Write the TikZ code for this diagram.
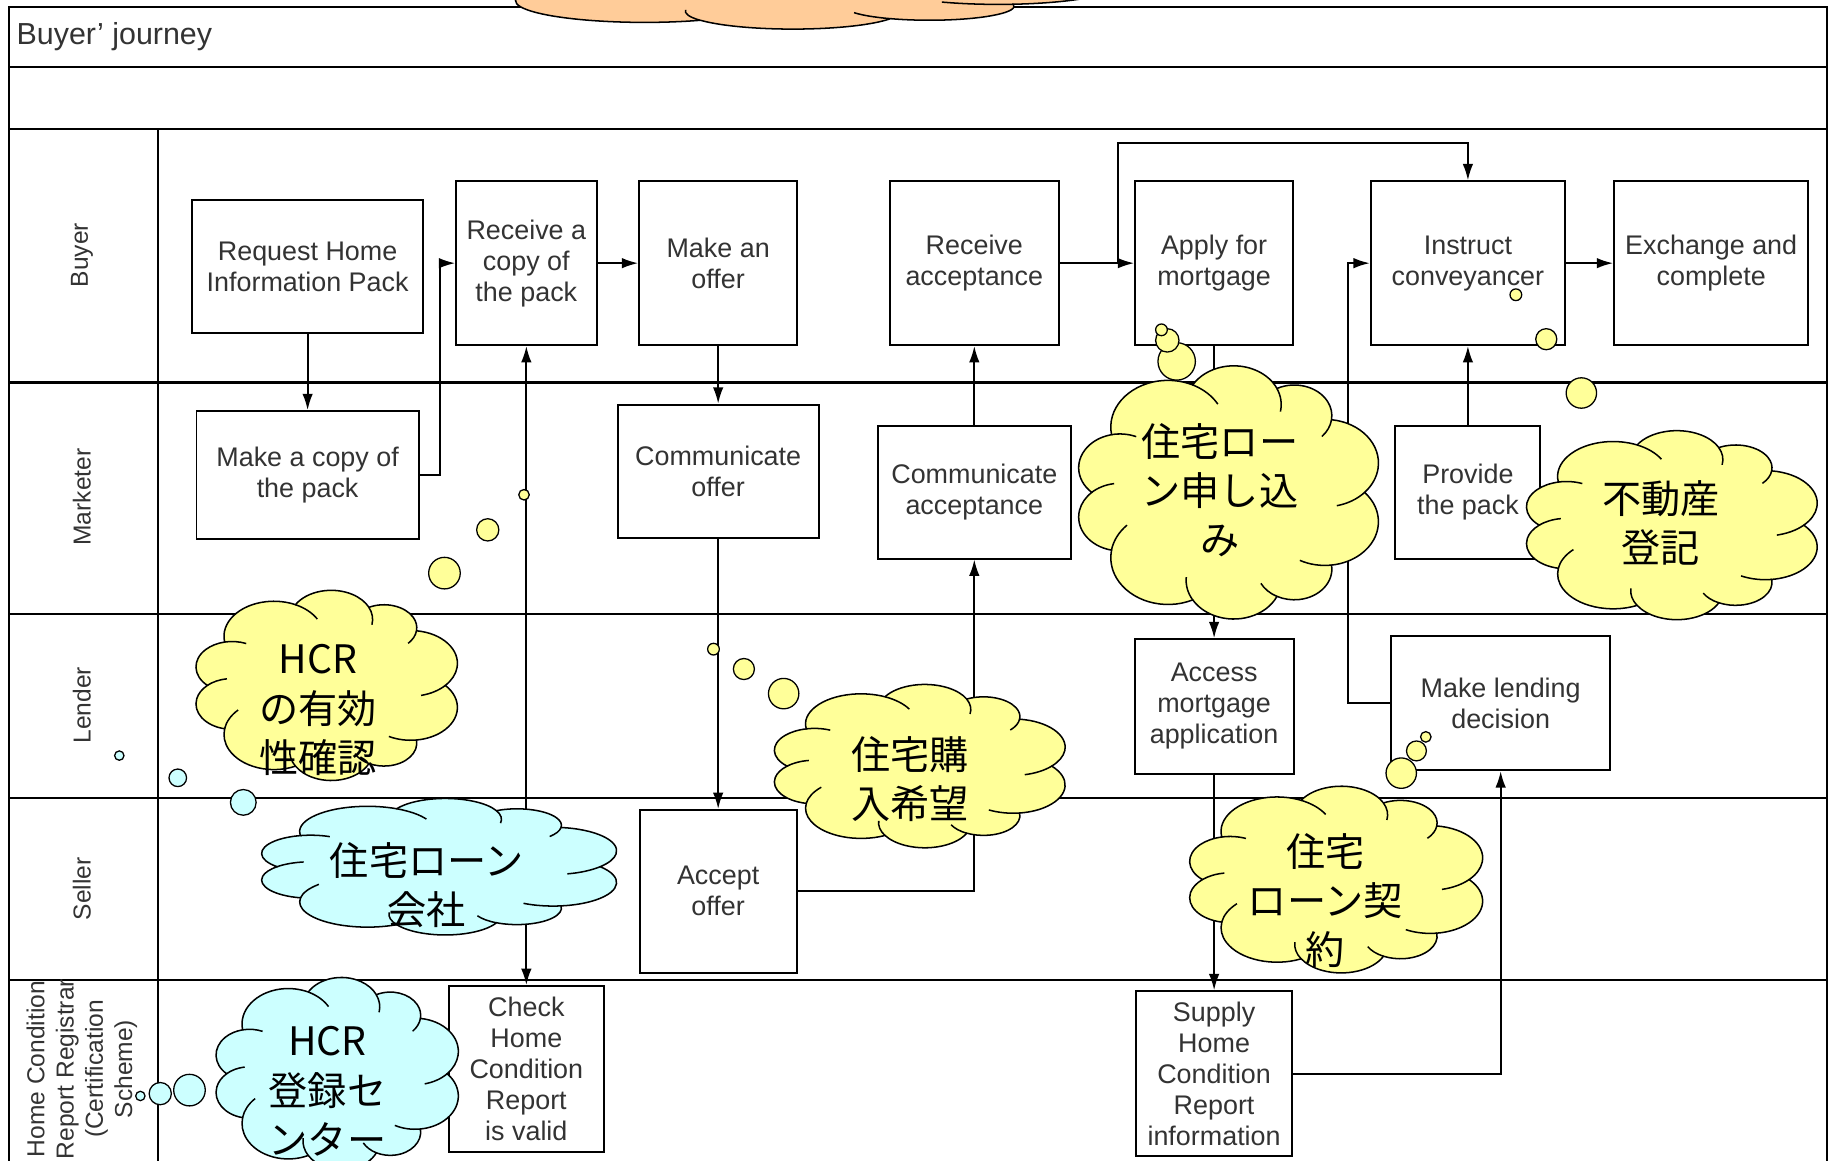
\documentclass[tikz,border=0pt]{standalone}
\usepackage{fontspec}
\setmainfont{Liberation Sans}
\newfontfamily\jp{Noto Sans CJK JP}
\usetikzlibrary{arrows.meta}
\definecolor{cyellow}{HTML}{FFFF99}
\definecolor{ccyan}{HTML}{CCFFFF}
\definecolor{corange}{HTML}{FFCC99}
\definecolor{txt}{HTML}{333333}
% ---- base cloud outline (junctions on a circle of radius 100) ----
\def\cwPhi{125}
\def\cwBase{}
\def\cwCrease{}
\foreach \k in {0,...,9}{%
  \pgfmathsetmacro\cwTa{36*\k+5*sin(\k*108)}%
  \pgfmathsetmacro\cwTb{36*(\k+1)+5*sin((\k+1)*108)}%
  \pgfmathsetmacro\cwXa{100*cos(\cwTa)}%
  \pgfmathsetmacro\cwYa{100*sin(\cwTa)}%
  \pgfmathsetmacro\cwXb{100*cos(\cwTb)}%
  \pgfmathsetmacro\cwYb{100*sin(\cwTb)}%
  \pgfmathsetmacro\cwDx{\cwXb-\cwXa}%
  \pgfmathsetmacro\cwDy{\cwYb-\cwYa}%
  \pgfmathsetmacro\cwLen{veclen(\cwDx,\cwDy)}%
  \pgfmathsetmacro\cwAl{atan2(\cwDy,\cwDx)}%
  \pgfmathsetmacro\cwR{\cwLen/(2*sin(\cwPhi/2))}%
  \pgfmathsetmacro\cwH{\cwR*cos(\cwPhi/2)}%
  \pgfmathsetmacro\cwCx{(\cwXa+\cwXb)/2-sin(\cwAl)*\cwH}%
  \pgfmathsetmacro\cwCy{(\cwYa+\cwYb)/2+cos(\cwAl)*\cwH}%
  \pgfmathsetmacro\cwS{atan2(\cwYa-\cwCy,\cwXa-\cwCx)}%
  \pgfmathsetmacro\cwE{\cwS+\cwPhi}%
  \pgfmathsetmacro\cwF{\cwE+35}%
  \xdef\cwBase{\cwBase arc[start angle=\cwS, end angle=\cwE, radius=\cwR]}%
  \xdef\cwCrease{\cwCrease (\cwXb,\cwYb) arc[start angle=\cwE, end angle=\cwF, radius=\cwR]}%
}
% #1 cx, #2 cy, #3 width, #4 height, #5 fill
\newcommand\drawcloud[5]{%
  \begin{scope}[shift={(#1,#2)}, xscale=#3/228, yscale=#4/228]
    \draw[line width=1.3pt, fill=#5] (100,0) \cwBase -- cycle;
    \draw[line width=1.3pt] \cwCrease;
  \end{scope}}
\begin{document}
\begin{tikzpicture}[x=1pt,y=-1pt,
  lane/.style={line width=1.8pt},
  box/.style={draw, line width=1.7pt, fill=white, align=center, font=\fontsize{23}{26.5}\selectfont, text=txt, inner sep=0pt},
  lanelabel/.style={rotate=90, align=center, font=\fontsize{21}{25}\selectfont, text=txt, inner sep=0pt},
  conn/.style={line width=1.6pt, -{Latex[length=14pt,width=9pt]}},
  bubble/.style={circle, draw, line width=1.1pt, inner sep=0pt},
  cloudtext/.style={font=\jp\fontsize{33.5}{42}\selectfont, align=center, inner sep=0pt}
]
\useasboundingbox (0,0) rectangle (1568,992);
\clip (0,0) rectangle (1568,992);
\fill[white] (0,0) rectangle (1568,992);

% frame and lanes
\draw[lane] (8,6) rectangle (1562,1010);
\draw[lane] (8,57) -- (1562,57);
\draw[lane] (8,110) -- (1562,110);
\draw[lane] (8,327) -- (1562,327);
\draw[lane] (8,525) -- (1562,525);
\draw[lane] (8,682) -- (1562,682);
\draw[lane] (8,838) -- (1562,838);
\draw[lane] (135,110) -- (135,1010);

\node[anchor=west, font=\fontsize{26}{28}\selectfont, text=txt, inner sep=0pt] (title) at (14,31) {Buyer' journey};
\node[lanelabel] (lbuyer) at (70,218) {Buyer};
\node[lanelabel] (lmarket) at (70,425) {Marketer};
\node[lanelabel] (llender) at (70,603) {Lender};
\node[lanelabel] (lseller) at (70,760) {Seller};
\node[lanelabel] (lhcr) at (70,914) {Home Condition\\Report Registrar\\(Certification\\Scheme)};

% boxes
\node[box, minimum width=198, minimum height=114] (req) at (263,228) {Request Home\\Information Pack};
\node[box, minimum width=120, minimum height=140] (recv) at (450,225) {Receive a\\copy of\\the pack};
\node[box, minimum width=135, minimum height=140] (offer) at (614,225) {Make an\\offer};
\node[box, minimum width=144, minimum height=140] (recvacc) at (833,225) {Receive\\acceptance};
\node[box, minimum width=135, minimum height=140] (apply) at (1038,225) {Apply for\\mortgage};
\node[box, minimum width=166, minimum height=140] (instr) at (1255,225) {Instruct\\conveyancer};
\node[box, minimum width=166, minimum height=140] (exch) at (1463,225) {Exchange and\\complete};
\node[box, minimum width=190, minimum height=109] (copy) at (263,406) {Make a copy of\\the pack};
\node[box, minimum width=172, minimum height=114] (commoffer) at (614,403) {Communicate\\offer};
\node[box, minimum width=165, minimum height=113] (commacc) at (833,421) {Communicate\\acceptance};
\node[box, minimum width=124, minimum height=113] (provide) at (1255,421) {Provide\\the pack};
\node[box, minimum width=136, minimum height=115] (access) at (1038,604) {Access\\mortgage\\application};
\node[box, minimum width=187, minimum height=115] (lend) at (1283,601) {Make lending\\decision};
\node[box, minimum width=134, minimum height=139] (accept) at (614,762) {Accept\\offer};
\node[box, minimum width=133, minimum height=142] (check) at (450,914) {Check\\Home\\Condition\\Report\\is valid};
\node[box, minimum width=134, minimum height=141] (supply) at (1038,918) {Supply\\Home\\Condition\\Report\\information};

% connectors
\draw[conn] (req) -- (copy);
\draw[conn] (copy.east) -- ++(17,0) |- (recv.west);
\draw[conn] (recv) -- (offer);
\draw[conn] (offer) -- (commoffer);
\draw[conn] (commoffer) -- (accept);
\draw[conn] (accept.east) -| (commacc.south);
\draw[conn] (commacc) -- (recvacc);
\draw[conn] (recvacc) -- (apply);
\coordinate (br) at (956,225);
\coordinate (brtop) at (956,122);
\draw[conn] (br) -- (brtop) -| (instr.north);
\draw[conn] (apply) -- (access);
\draw[conn] (access) -- (supply);
\draw[conn] (supply.east) -| (lend.south);
\draw[conn] (lend.west) -- ++(-36,0) |- (instr.west);
\draw[conn] (provide) -- (instr);
\draw[conn] (instr) -- (exch);
\draw[line width=1.6pt, {Latex[length=14pt,width=9pt]}-{Latex[length=14pt,width=9pt]}] (recv.south) -- (check.north);

% clouds
\drawcloud{667}{-25}{600}{100}{corange}
\drawcloud{279}{586}{232}{163}{cyellow}
\drawcloud{375}{741}{315}{117}{ccyan}
\drawcloud{288}{918}{215}{165}{ccyan}
\drawcloud{786}{655}{258}{140}{cyellow}
\drawcloud{1050}{421}{266}{217}{cyellow}
\drawcloud{1429}{449}{258}{162}{cyellow}
\drawcloud{1142}{752}{260}{160}{cyellow}

% bubbles
\node[bubble, fill=cyellow, minimum size=9] (b1) at (448,423) {};
\node[bubble, fill=cyellow, minimum size=19] (b2) at (417,453) {};
\node[bubble, fill=cyellow, minimum size=27] (b3) at (380,490) {};
\node[bubble, fill=ccyan, minimum size=8] (b4) at (102,646) {};
\node[bubble, fill=ccyan, minimum size=15] (b5) at (152,665) {};
\node[bubble, fill=ccyan, minimum size=22] (b6) at (208,686) {};
\node[bubble, fill=ccyan, minimum size=8] (b7) at (120,937) {};
\node[bubble, fill=ccyan, minimum size=19] (b8) at (137,935) {};
\node[bubble, fill=ccyan, minimum size=27] (b9) at (162,932) {};
\node[bubble, fill=cyellow, minimum size=10] (b10) at (610,555) {};
\node[bubble, fill=cyellow, minimum size=18] (b11) at (636,572) {};
\node[bubble, fill=cyellow, minimum size=26] (b12) at (670,593) {};
\node[bubble, fill=cyellow, minimum size=32] (b15) at (1006,309) {};
\node[bubble, fill=cyellow, minimum size=20] (b14) at (998,291) {};
\node[bubble, fill=cyellow, minimum size=10] (b13) at (993,282) {};
\node[bubble, fill=cyellow, minimum size=10] (b16) at (1296,252) {};
\node[bubble, fill=cyellow, minimum size=18] (b17) at (1322,290) {};
\node[bubble, fill=cyellow, minimum size=26] (b18) at (1352,336) {};
\node[bubble, fill=cyellow, minimum size=26] (b21) at (1198,661) {};
\node[bubble, fill=cyellow, minimum size=17] (b20) at (1211,642) {};
\node[bubble, fill=cyellow, minimum size=9] (b19) at (1219,630) {};

% cloud texts
\node[cloudtext] (tB) at (272,607) {HCR\\の有効\\性確認};
\node[cloudtext] (tC) at (365,757) {住宅ローン\\会社};
\node[cloudtext] (tD) at (280,933) {HCR\\登録セ\\ンター};
\node[cloudtext] (tE) at (778,666) {住宅購\\入希望};
\node[cloudtext] (tF) at (1043,419) {住宅ロー\\ン申し込\\み};
\node[cloudtext] (tG) at (1420,447) {不動産\\登記};
\node[cloudtext] (tH) at (1133,770) {住宅\\ローン契\\約};
\end{tikzpicture}
\end{document}
